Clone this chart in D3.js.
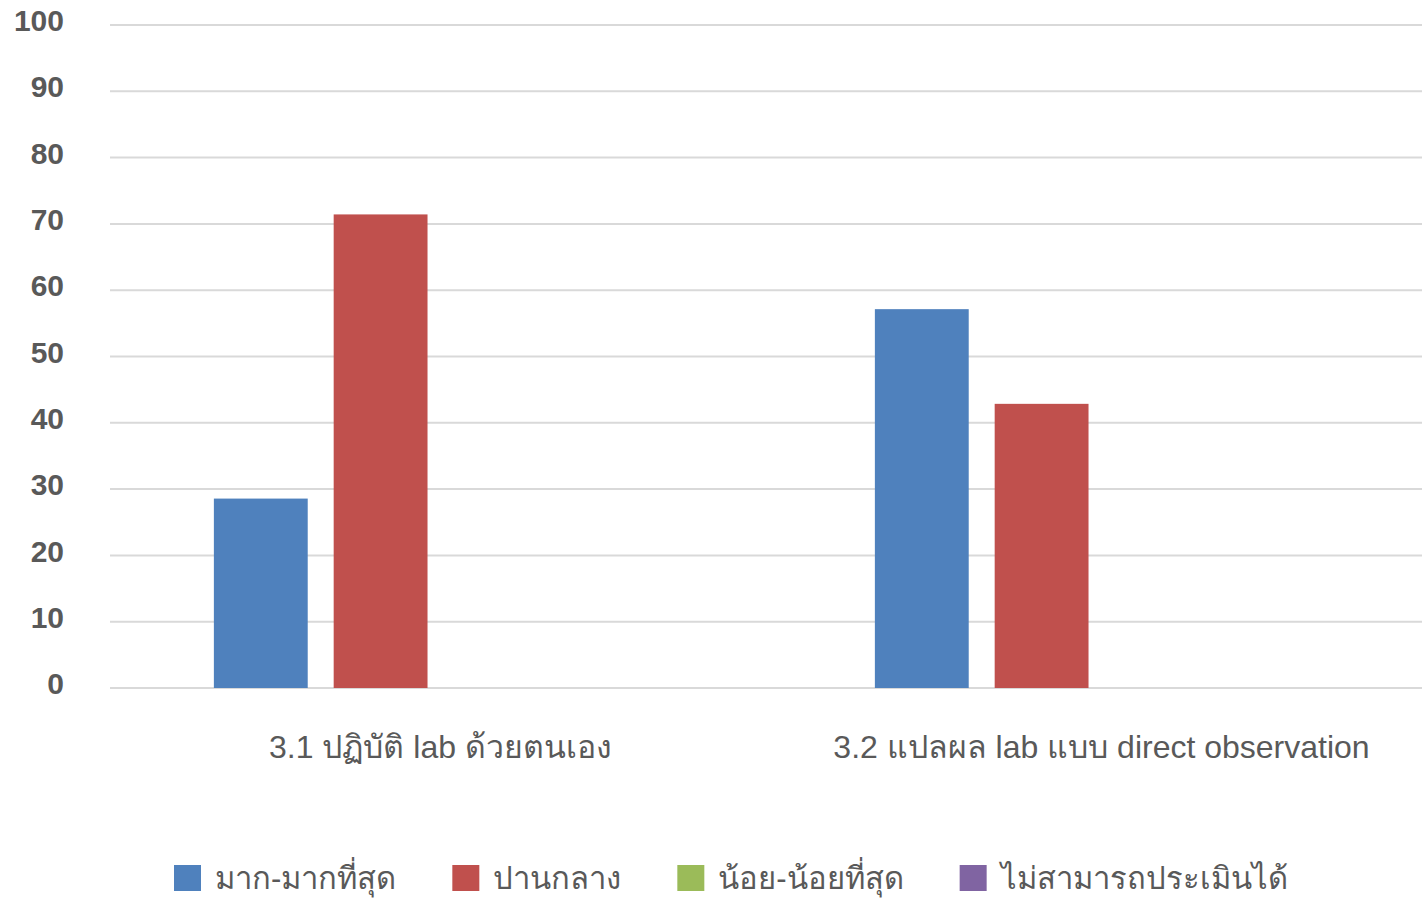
<!DOCTYPE html>
<html>
<head>
<meta charset="utf-8">
<script src="https://cdn.jsdelivr.net/npm/d3@7"></script>
<style>
  body { margin: 0; background: #fff; }
  svg { display: block; font-family: "Liberation Sans", Arial, sans-serif; }
</style>
</head>
<body>
<div id="vis"></div>
<script>
const FRAME_WIDTH = 1422;
const FRAME_HEIGHT = 901;
const MARGINS = {left: 110, right: -10, top: 25, bottom: 213};

// data
const categories = ["3.1 ปฏิบัติ lab ด้วยตนเอง", "3.2 แปลผล lab แบบ direct observation"];
const seriesNames = ["มาก-มากที่สุด", "ปานกลาง", "น้อย-น้อยที่สุด", "ไม่สามารถประเมินได้"];
const seriesColors = ["#4F81BD", "#C0504D", "#9BBB59", "#8064A2"];
const mostValues = [28.57, 57.14];
const midValues = [71.43, 42.86];
const leastValues = [0, 0];
const cannotValues = [0, 0];
const yTicks = [0, 10, 20, 30, 40, 50, 60, 70, 80, 90, 100];

const allSeries = [mostValues, midValues, leastValues, cannotValues];

const VIS_WIDTH = FRAME_WIDTH - MARGINS.left - MARGINS.right;
const VIS_HEIGHT = FRAME_HEIGHT - MARGINS.top - MARGINS.bottom;

const FRAME = d3.select("#vis")
  .append("svg")
    .attr("width", FRAME_WIDTH)
    .attr("height", FRAME_HEIGHT);

const X_SCALE = d3.scaleBand()
  .domain(categories)
  .range([MARGINS.left, MARGINS.left + VIS_WIDTH]);

const X_INNER = d3.scaleBand()
  .domain(seriesNames)
  .range([0, X_SCALE.bandwidth()])
  .paddingInner(0.2167)
  .paddingOuter(0.867);

const Y_SCALE = d3.scaleLinear()
  .domain([0, 100])
  .range([MARGINS.top + VIS_HEIGHT, MARGINS.top]);

// gridlines
FRAME.append("g")
  .selectAll("line")
  .data(yTicks)
  .enter()
  .append("line")
    .attr("x1", MARGINS.left)
    .attr("x2", FRAME_WIDTH)
    .attr("y1", d => Y_SCALE(d))
    .attr("y2", d => Y_SCALE(d))
    .attr("stroke", "#D9D9D9")
    .attr("stroke-width", 2);

// y axis labels
const yAxis = FRAME.append("g")
  .attr("transform", "translate(64,-4)")
  .call(d3.axisLeft(Y_SCALE).tickValues(yTicks).tickSize(0).tickPadding(0));
yAxis.select(".domain").remove();
yAxis.selectAll("text")
  .attr("font-size", "30px")
  .attr("font-weight", "bold")
  .attr("fill", "#595959")
  .attr("font-family", "\"Liberation Sans\", Arial, sans-serif");

// bars
const rows = [];
categories.forEach((c, i) => {
  seriesNames.forEach((s, j) => {
    rows.push({cat: c, series: s, value: allSeries[j][i], color: seriesColors[j]});
  });
});

FRAME.append("g")
  .selectAll("rect")
  .data(rows)
  .enter()
  .append("rect")
    .attr("x", d => X_SCALE(d.cat) + X_INNER(d.series))
    .attr("y", d => Y_SCALE(d.value))
    .attr("width", X_INNER.bandwidth())
    .attr("height", d => Y_SCALE(0) - Y_SCALE(d.value))
    .attr("fill", d => d.color);

// category labels
FRAME.append("g")
  .selectAll("text")
  .data(categories)
  .enter()
  .append("text")
    .attr("x", d => X_SCALE(d) + X_SCALE.bandwidth() / 2)
    .attr("y", 758)
    .attr("text-anchor", "middle")
    .attr("font-size", "32px")
    .attr("fill", "#595959")
    .text(d => d);

// legend
const legend = FRAME.append("g").attr("transform", "translate(174,865)");
let lx = 0;
seriesNames.forEach((s, j) => {
  const item = legend.append("g").attr("transform", "translate(" + lx + ",0)");
  item.append("rect")
    .attr("width", 27)
    .attr("height", 26)
    .attr("fill", seriesColors[j]);
  const t = item.append("text")
    .attr("x", 41)
    .attr("y", 24)
    .attr("font-size", "31px")
    .attr("fill", "#595959")
    .text(s);
  lx += 41 + t.node().getComputedTextLength() + 56;
});
</script>
</body>
</html>
